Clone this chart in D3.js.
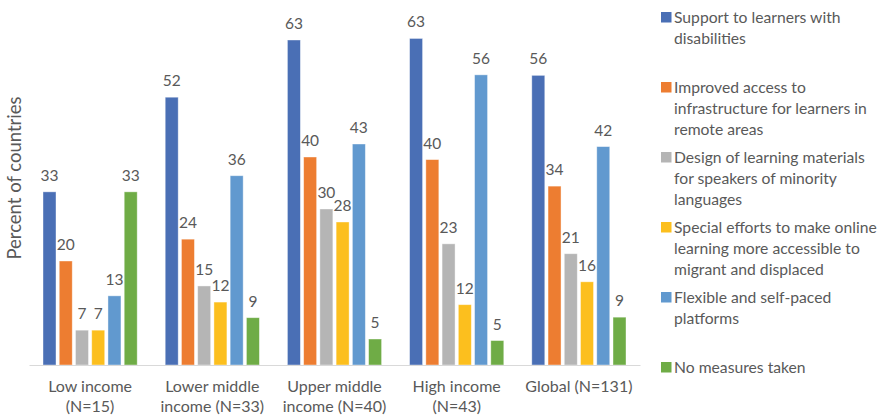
<!DOCTYPE html>
<html><head><meta charset="utf-8">
<script src="https://cdn.jsdelivr.net/npm/d3@7"></script>
<style>
html,body{margin:0;padding:0;background:#fff;}
text{font-family:Lato,"Open Sans",sans-serif;fill:#595959;}
</style></head>
<body><svg id="c" width="879" height="417"></svg>
<script>
const categories = [["Low income","(N=15)"],["Lower middle","income (N=33)"],["Upper middle","income (N=40)"],["High income","(N=43)"],["Global (N=131)"]];
const seriesNames = [
  ["Support to learners with","disabilities"],
  ["Improved access to","infrastructure for learners in","remote areas"],
  ["Design of learning materials","for speakers of minority","languages"],
  ["Special efforts to make online","learning more accessible to","migrant and displaced"],
  ["Flexible and self-paced","platforms"],
  ["No measures taken"]
];
const seriesColors = ["#4a6fb5","#ed7d31","#b5b5b5","#fcbf1e","#6199cf","#6fac46"];
// values per series, in category order
const sSupport    = [33.3, 51.5, 62.5, 62.8, 55.7];
const sAccess     = [20.0, 24.2, 40.0, 39.5, 34.4];
const sMaterials  = [6.7, 15.2, 30.0, 23.3, 21.4];
const sOnline     = [6.7, 12.1, 27.5, 11.6, 16.0];
const sFlexible   = [13.3, 36.4, 42.5, 55.8, 42.0];
const sNone       = [33.3, 9.1, 5.0, 4.7, 9.2];
const seriesValues = [sSupport, sAccess, sMaterials, sOnline, sFlexible, sNone];
const yTitle = "Percent of countries";

const svg = d3.select("#c");
const pLeft = 29, pRight = 640, pBase = 365, pTop = 1;
const x0 = d3.scaleBand().domain(d3.range(categories.length)).range([pLeft, pRight]).padding(0);
const x1 = d3.scaleBand().domain(d3.range(seriesValues.length)).range([14, x0.bandwidth()-14]).paddingInner(0.2).paddingOuter(0);
const y = d3.scaleLinear().domain([0,70]).range([pBase, pTop]);

const g = svg.append("g");
categories.forEach((c, ci) => {
  const gg = g.append("g").attr("transform", `translate(${x0(ci)},0)`);
  seriesValues.forEach((vals, si) => {
    const v = vals[ci];
    gg.append("rect")
      .attr("x", x1(si)).attr("width", x1.bandwidth())
      .attr("y", y(v)).attr("height", pBase - y(v))
      .attr("fill", seriesColors[si])
      .attr("stroke", "#ffffff").attr("stroke-opacity",0.5).attr("stroke-width",0.8);
    gg.append("text")
      .attr("x", x1(si) + x1.bandwidth()/2)
      .attr("y", y(v) - 11)
      .attr("text-anchor","middle")
      .style("font-size","15.5px")
      .text(d3.format(".0f")(v));
  });
});

// axis line
const xAxis = d3.axisBottom(x0).tickSize(0).tickFormat("");
const ax = svg.append("g").attr("transform",`translate(0,${pBase})`).call(xAxis);
ax.select(".domain").attr("stroke","#d9d9d9").attr("stroke-width",1.2);

// category labels
categories.forEach((c, ci) => {
  const t = svg.append("text")
    .attr("x", x0(ci) + x0.bandwidth()/2)
    .attr("y", 392)
    .attr("text-anchor","middle")
    .style("font-size","16px");
  c.forEach((line, li) => {
    t.append("tspan").attr("x", x0(ci) + x0.bandwidth()/2).attr("dy", li ? 20 : 0).text(line);
  });
});

// y title
svg.append("text")
  .attr("transform","translate(21,178) rotate(-90)")
  .attr("text-anchor","middle")
  .style("font-size","18.5px")
  .text(yTitle);

// legend
const legend = svg.append("g");
seriesNames.forEach((lines, si) => {
  const ly = 23 + si*70;
  legend.append("rect").attr("x", 661).attr("y", ly-11).attr("width", 10.5).attr("height", 10.5).attr("fill", seriesColors[si]);
  const t = legend.append("text").attr("x", 674).attr("y", ly).style("font-size","15.7px");
  lines.forEach((line, li) => t.append("tspan").attr("x", 674).attr("dy", li ? 21 : 0).text(line));
});
</script></body></html>
